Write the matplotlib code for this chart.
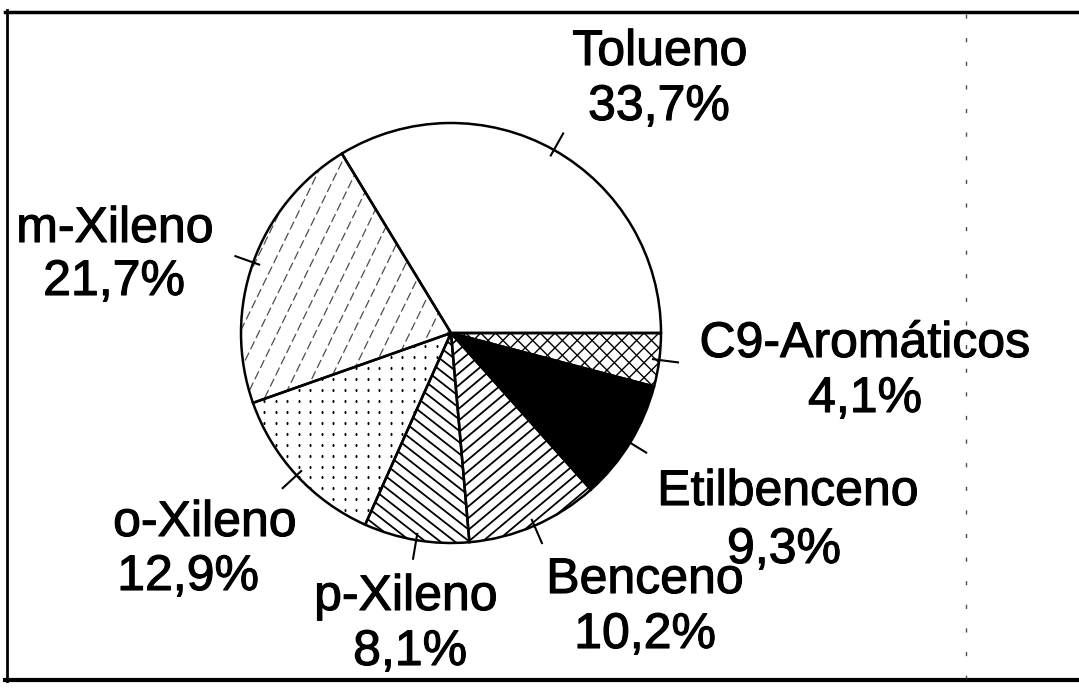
"""Pie chart: composition of aromatics (BTX) stream."""

import numpy as np
import matplotlib
matplotlib.use("Agg")
import matplotlib.pyplot as plt
import matplotlib.patheffects as pe
from matplotlib.patches import Wedge

plt.rcParams["font.family"] = ["Liberation Sans", "DejaVu Sans"]

# data
labels = ["Tolueno", "m-Xileno", "o-Xileno", "p-Xileno", "Benceno", "Etilbenceno", "C9-Aromáticos"]
shares = [33.7, 21.7, 12.9, 8.1, 10.2, 9.3, 4.1]

W, H = 1079, 691
CX, CY, R = 451, H - 333, 210

# label layout in pixels: (x line1, baseline line1, x line2, baseline line2)
label_pos = [
    (660, 65, 659, 120),
    (115, 242, 114, 295),
    (205, 536, 188, 590),
    (406, 610, 410, 665),
    (645, 593, 645, 648),
    (788, 505, 784, 563),
    (865, 357, 865, 412),
]
face_colors = ["white", "white", "white", "white", "white", "black", "white"]


def fmt_pct(v):
    return f"{v:.1f}".replace(".", ",") + "%"


def line_hatch(ax, wedge, angle, spacing, **kw):
    a = np.deg2rad(angle)
    d = np.array([np.cos(a), np.sin(a)])
    n = np.array([-np.sin(a), np.cos(a)])
    c = np.array([CX, CY])
    for off in np.arange(-R * 1.2, R * 1.2, spacing):
        p0 = c + n * off - d * R * 1.5
        p1 = c + n * off + d * R * 1.5
        ln, = ax.plot([p0[0], p1[0]], [p0[1], p1[1]], zorder=2, **kw)
        ln.set_clip_path(wedge)


def dot_hatch(ax, wedge, step, size):
    xs = np.arange(CX - R, CX + R, step)
    ys = np.arange(CY - R, CY + R, step * 0.95)
    gx, gy = np.meshgrid(xs, ys)
    ln, = ax.plot(gx.ravel(), gy.ravel(), ls="none", marker="s", ms=size,
                  mfc="black", mec="none", zorder=2)
    ln.set_clip_path(wedge)


fig = plt.figure(figsize=(W / 100, H / 100), dpi=100)
ax = fig.add_axes([0, 0, 1, 1])

wedges, _ = ax.pie(shares, colors=face_colors, startangle=0, counterclock=True,
                   center=(CX, CY), radius=R,
                   wedgeprops=dict(edgecolor="none", linewidth=0))
for w in wedges:
    w.set_zorder(1)

# fill patterns
line_hatch(ax, wedges[1], 64, 17, color="0.3", lw=0.9, ls=(0, (7, 3)))
dot_hatch(ax, wedges[2], 11.5, 1.6)
line_hatch(ax, wedges[3], -38, 9.0, color="black", lw=1.3)
line_hatch(ax, wedges[4], 40, 9.0, color="black", lw=1.3)
line_hatch(ax, wedges[6], 45, 10.5, color="black", lw=1.0)
line_hatch(ax, wedges[6], -45, 10.5, color="black", lw=1.0)

# slightly heavier strokes, like the scanned original
ink = [pe.withStroke(linewidth=0.8, foreground="black")]

# outlines and leader ticks
for w, name, v, (x1, b1, x2, b2) in zip(wedges, labels, shares, label_pos):
    ax.add_patch(Wedge(w.center, w.r, w.theta1, w.theta2, fill=False,
                       edgecolor="black", lw=1.8, zorder=3))
    mid = np.deg2rad((w.theta1 + w.theta2) / 2)
    ax.plot([CX + 0.97 * R * np.cos(mid), CX + 1.09 * R * np.cos(mid)],
            [CY + 0.97 * R * np.sin(mid), CY + 1.09 * R * np.sin(mid)],
            color="black", lw=1.5, zorder=3)
    ax.text(x1, H - b1, name, ha="center", va="baseline", fontsize=36,
            zorder=4, path_effects=ink)
    ax.text(x2, H - b2, fmt_pct(v), ha="center", va="baseline", fontsize=36,
            zorder=4, path_effects=ink)

# scanned frame
ax.plot([7, 7], [H - 10, H - 681], color="black", lw=2)
ax.plot([5, W], [H - 12, H - 12], color="black", lw=2.5)
ax.plot([5, W], [H - 680, H - 680], color="black", lw=3)
ax.plot([966, 966], [H - 14, H - 678], color="0.3", lw=1, ls=(0, (3, 14)))

ax.set_xlim(0, W)
ax.set_ylim(0, H)
ax.set_aspect("auto")
ax.axis("off")

fig.savefig("out.png", dpi=100)
